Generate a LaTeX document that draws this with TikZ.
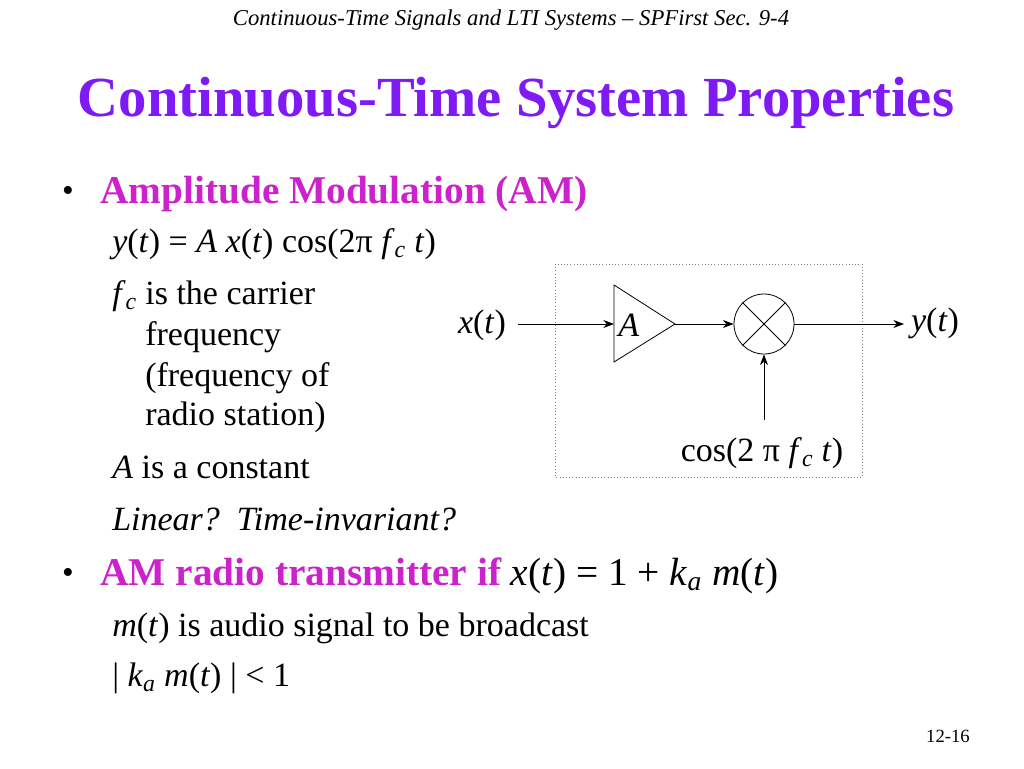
\documentclass[tikz,border=0pt]{standalone}
\usepackage{fontspec}
\setmainfont{Liberation Serif}
\usetikzlibrary{arrows.meta}
\definecolor{ttl}{HTML}{7F1AF5}
\definecolor{mag}{HTML}{CC22CC}
\newcommand{\iv}[1]{\textit{#1}}
\newcommand{\sbs}[1]{\textsubscript{\textit{#1}}}
\begin{document}
\begin{tikzpicture}[x=0.75pt,y=-0.75pt,
  body/.style={anchor=west,inner sep=0pt,font=\fontsize{25.5}{30}\selectfont},
  head/.style={anchor=west,inner sep=0pt,font=\fontsize{29.5}{34}\selectfont\bfseries,text=mag},
  conn/.style={-{Stealth[length=8pt,width=6pt]},line width=0.6pt}]
\useasboundingbox (0,0) rectangle (1024,768);
\node[inner sep=0pt,font=\fontsize{17}{20}\selectfont\itshape] (hdr) at (511,20) {Continuous-Time Signals and LTI Systems -- SPFirst Sec. 9-4};
\node[inner sep=0pt,font=\fontsize{42.5}{48}\selectfont\bfseries,text=ttl] (title) at (516,103) {Continuous-Time System Properties};
\node[anchor=center,inner sep=0pt,font=\fontsize{25}{30}\selectfont] (d1) at (68,194) {•};
\node[head] (b1) at (100,194) {Amplitude Modulation (AM)};
\node[body] (l1) at (112,244) {\iv{y}(\iv{t}) = \iv{A} \iv{x}(\iv{t}) cos(2π \iv{f}\sbs{c} \iv{t})};
\node[body] (l2) at (112,296) {\iv{f}\sbs{c} is the carrier};
\node[body] (l3) at (145,337) {frequency};
\node[body] (l4) at (145,378) {(frequency of};
\node[body] (l5) at (145,417) {radio station)};
\node[body] (l6) at (112,467) {\iv{A} is a constant};
\node[body] (l7) at (112,519) {\itshape Linear?\ \ Time-invariant?};
\node[anchor=center,inner sep=0pt,font=\fontsize{25}{30}\selectfont] (d2) at (68,576) {•};
\node[head] (b2) at (100,576) {AM radio transmitter if \textcolor{black}{\mdseries\iv{x}(\iv{t}) = 1 + \iv{k}\sbs{a} \iv{m}(\iv{t})}};
\node[body] (l8) at (112,628) {\iv{m}(\iv{t}) is audio signal to be broadcast};
\node[body] (l9) at (112,678) {| \iv{k}\sbs{a} \iv{m}(\iv{t}) | < 1};
\node[inner sep=0pt,font=\fontsize{14}{16}\selectfont] (pg) at (948,736) {12-16};
% diagram
\draw[dotted,gray] (555,264) rectangle (862,477);
\coordinate (tl) at (614,285); \coordinate (bl) at (614,362); \coordinate (tip) at (675,324);
\draw[line width=0.6pt] (tl) -- (tip) -- (bl) -- cycle;
\node[body] (A) at (618,325) {\iv{A}};
\node[draw,circle,minimum size=45pt,inner sep=0pt,line width=0.6pt] (mix) at (764,324) {};
\draw[line width=0.6pt] (mix.45) -- (mix.225) (mix.135) -- (mix.315);
\node[body,anchor=center] (x) at (482,325) {\iv{x}(\iv{t})};
\node[body,anchor=center] (y) at (935,323) {\iv{y}(\iv{t})};
\node[body,anchor=center] (cos) at (762,453) {cos(2 π \iv{f}\sbs{c} \iv{t})};
\coordinate (xs) at (518,324); \coordinate (ys) at (904,324); \coordinate (cs) at (764,420);
\draw[conn] (xs) -- (614,324);
\draw[conn] (tip) -- (mix.west);
\draw[conn] (mix.east) -- (ys);
\draw[conn] (cs) -- (mix.south);
\end{tikzpicture}
\end{document}
